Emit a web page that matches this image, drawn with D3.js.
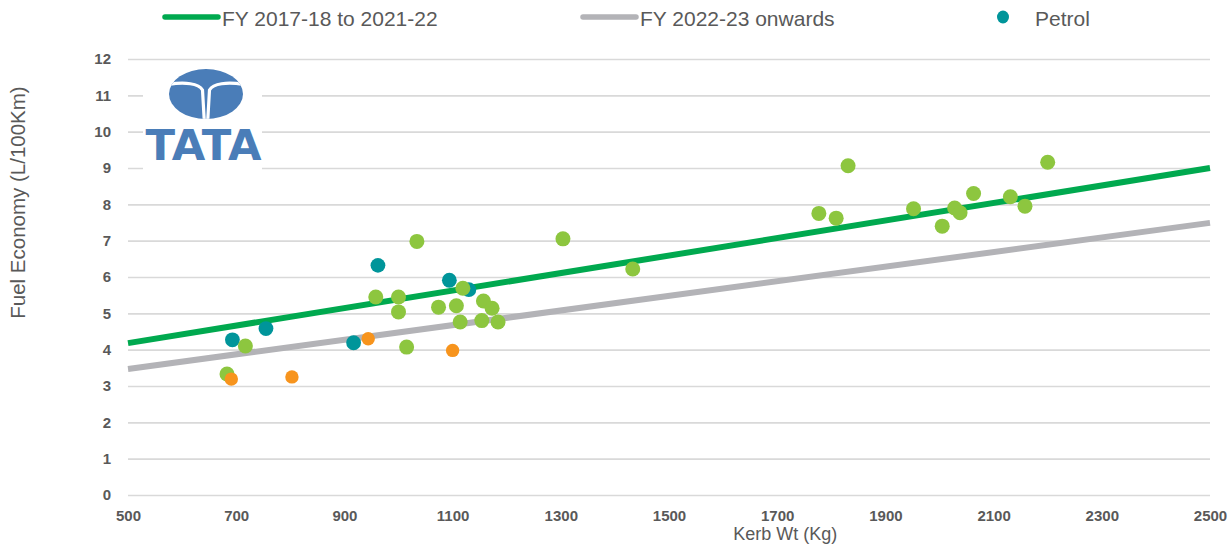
<!DOCTYPE html>
<html>
<head>
<meta charset="utf-8">
<script src="https://cdn.jsdelivr.net/npm/d3@7"></script>
<style>
  html, body { margin: 0; padding: 0; background: #fff; }
  svg { display: block; font-family: "Liberation Sans", Arial, sans-serif; }
</style>
</head>
<body>
<svg id="chart" width="1228" height="545"></svg>
<script>
// Kerb weight (kg) vs fuel economy (L/100km)
const petrolWt   = [693, 755, 917, 962, 1094, 1130];
const petrolFe   = [4.27, 4.58, 4.19, 6.32, 5.91, 5.65];

const greenWt = [683, 717, 958, 1000, 1000, 1015, 1034, 1074, 1107, 1119, 1114, 1157, 1154, 1173, 1184,
                 1304, 1433, 1777, 1809, 1831, 1952, 2005, 2028, 2038, 2063, 2131, 2158, 2200];
const greenFe = [3.33, 4.10, 5.45, 5.45, 5.04, 4.07, 6.98, 5.17, 5.21, 5.69, 4.76, 5.34, 4.80, 5.14, 4.76,
                 7.05, 6.22, 7.75, 7.62, 9.06, 7.88, 7.40, 7.90, 7.77, 8.30, 8.21, 7.95, 9.16];

const orangeWt = [691, 803, 944, 1100];
const orangeFe = [3.19, 3.25, 4.30, 3.98];

// Target lines: [kerb wt, L/100km] at both ends of the axis
const targetWt      = [500, 2500];
const target2017Fe  = [4.18, 9.00];
const target2022Fe  = [3.47, 7.49];

const xTicks = [500, 700, 900, 1100, 1300, 1500, 1700, 1900, 2100, 2300, 2500];
const yTicks = [0, 1, 2, 3, 4, 5, 6, 7, 8, 9, 10, 11, 12];

const legendLabels = ["FY 2017-18 to 2021-22", "FY 2022-23 onwards", "Petrol"];

const C = {
  target2017: "#00A94F",
  target2022: "#B3B3B7",
  petrol: "#00959A",
  green: "#8DC63F",
  orange: "#F7941D",
  grid: "#D9D9D9",
  text: "#595959",
  logo: "#4A7DB8"
};

const svg = d3.select("#chart");
const plotL = 128, plotR = 1210, plotT = 59, plotB = 495;

const x = d3.scaleLinear().domain([500, 2500]).range([plotL, plotR]);
const y = d3.scaleLinear().domain([0, 12]).range([plotB, plotT]);

// Horizontal gridlines + y tick labels
const yAxis = svg.append("g")
  .attr("transform", `translate(${plotL},0)`)
  .call(d3.axisLeft(y).tickValues(yTicks).tickFormat(d3.format("d"))
        .tickSizeInner(-(plotR - plotL)).tickSizeOuter(0).tickPadding(17));
yAxis.select(".domain").remove();
yAxis.selectAll(".tick line").attr("stroke", C.grid).attr("stroke-width", 1.6);
yAxis.selectAll(".tick text")
  .attr("fill", C.text).attr("font-size", 15).attr("font-weight", "bold")
  .attr("font-family", "Liberation Sans, Arial, sans-serif");

// x tick labels
const xAxis = svg.append("g")
  .attr("transform", `translate(0,${plotB})`)
  .call(d3.axisBottom(x).tickValues(xTicks).tickFormat(d3.format("d"))
        .tickSize(0).tickPadding(15));
xAxis.select(".domain").remove();
xAxis.selectAll(".tick text")
  .attr("fill", C.text).attr("font-size", 15).attr("font-weight", "bold")
  .attr("font-family", "Liberation Sans, Arial, sans-serif");

// Axis titles
svg.append("text")
  .attr("x", x(1700) + 8).attr("y", 540)
  .attr("text-anchor", "middle").attr("fill", C.text).attr("font-size", 18)
  .text("Kerb Wt (Kg)");
svg.append("text")
  .attr("transform", `translate(25,${y(8.05)}) rotate(-90)`)
  .attr("text-anchor", "middle").attr("fill", C.text).attr("font-size", 20.5)
  .text("Fuel Economy (L/100Km)");

// Logo panel
const logo = svg.append("g");
logo.append("rect").attr("x", 143).attr("y", 62).attr("width", 119).attr("height", 110).attr("fill", "#fff");
const cx = 206, cy = 94, rx = 37, ry = 25;
const defs = svg.append("defs");
defs.append("clipPath").attr("id", "ovalClip")
  .append("ellipse").attr("cx", cx).attr("cy", cy).attr("rx", rx).attr("ry", ry);
logo.append("ellipse").attr("cx", cx).attr("cy", cy).attr("rx", rx).attr("ry", ry).attr("fill", C.logo);
const cut = logo.append("g").attr("clip-path", "url(#ovalClip)");
[-1, 1].forEach(s => {
  cut.append("path")
    .attr("d", `M${cx + s * (rx + 4)},${cy - 9} C${cx + s * 20},${cy - 13} ${cx + s * 7},${cy - 10} ${cx + s * 3.5},${cy - 4} L${cx + s * 1.6},${cy + ry + 4}`)
    .attr("fill", "none").attr("stroke", "#fff").attr("stroke-width", 3.2);
});
logo.append("text")
  .attr("x", 203.5).attr("y", 160)
  .attr("text-anchor", "middle")
  .attr("font-family", "DejaVu Sans, sans-serif").attr("font-weight", "bold")
  .attr("font-size", 42).attr("textLength", 116).attr("lengthAdjust", "spacingAndGlyphs")
  .attr("fill", C.logo)
  .text("TATA");

// Target lines
const line = d3.line().x(d => x(d[0])).y(d => y(d[1]));
svg.append("path").datum(d3.zip(targetWt, target2022Fe))
  .attr("d", line).attr("fill", "none").attr("stroke", C.target2022).attr("stroke-width", 6);
svg.append("path").datum(d3.zip(targetWt, target2017Fe))
  .attr("d", line).attr("fill", "none").attr("stroke", C.target2017).attr("stroke-width", 6);

// Vehicle points
function dots(wt, fe, color, r) {
  svg.append("g").selectAll("circle").data(d3.zip(wt, fe)).join("circle")
    .attr("cx", d => x(d[0])).attr("cy", d => y(d[1])).attr("r", r).attr("fill", color);
}
dots(petrolWt, petrolFe, C.petrol, 7.4);
dots(greenWt, greenFe, C.green, 7.5);
dots(orangeWt, orangeFe, C.orange, 6.7);

// Legend
const lg = svg.append("g");
lg.append("line").attr("x1", 165).attr("x2", 218).attr("y1", 17).attr("y2", 17)
  .attr("stroke", C.target2017).attr("stroke-width", 5.5).attr("stroke-linecap", "round");
lg.append("text").attr("x", 222).attr("y", 25.5).attr("fill", C.text).attr("font-size", 21).text(legendLabels[0]);
lg.append("line").attr("x1", 583).attr("x2", 636).attr("y1", 17).attr("y2", 17)
  .attr("stroke", C.target2022).attr("stroke-width", 5.5).attr("stroke-linecap", "round");
lg.append("text").attr("x", 640).attr("y", 25.5).attr("fill", C.text).attr("font-size", 21).text(legendLabels[1]);
lg.append("ellipse").attr("cx", 1003).attr("cy", 17).attr("rx", 6).attr("ry", 6.5).attr("fill", C.petrol);
lg.append("text").attr("x", 1035).attr("y", 25.5).attr("fill", C.text).attr("font-size", 21).text(legendLabels[2]);
</script>
</body>
</html>
